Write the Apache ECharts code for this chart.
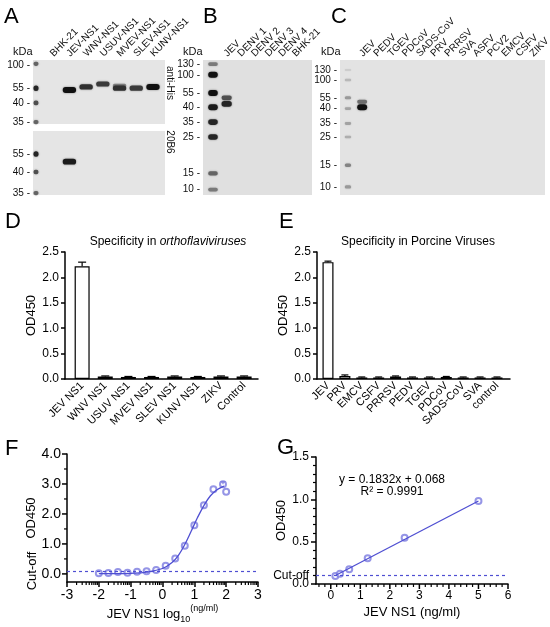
<!DOCTYPE html>
<html>
<head>
<meta charset="utf-8">
<script src="https://cdn.jsdelivr.net/npm/echarts@6/dist/echarts.min.js"></script>
<style>
html, body { margin: 0; padding: 0; background: #fff; }
#chart { width: 550px; height: 627px; }
</style>
</head>
<body>
<div id="chart"></div>
<script>
const FONT = '"Liberation Sans", Arial, Helvetica, sans-serif';

// ---- western blots: [lane, relative migration, intensity] ----
const lanesA = ['BHK-21', 'JEV-NS1', 'WNV-NS1', 'USUV-NS1', 'MVEV-NS1', 'SLEV-NS1', 'KUNV-NS1'];
const kdaA1 = [100, 55, 40, 35];
const posA1 = [0.08, 0.44, 0.67, 0.97];
const bandsA1 = [[0, 0.06, 0.6], [0, 0.44, 0.9], [0, 0.67, 0.7], [0, 0.97, 0.6],
  [2, 0.47, 1], [3, 0.42, 0.85], [4, 0.375, 0.8], [5, 0.40, 0.45], [5, 0.44, 0.85],
  [6, 0.44, 0.8], [7, 0.42, 1]];
const kdaA2 = [55, 40, 35];
const posA2 = [0.36, 0.64, 0.97];
const bandsA2 = [[0, 0.36, 0.9], [0, 0.64, 0.7], [0, 0.97, 0.6], [2, 0.48, 0.95]];

const lanesB = ['JEV', 'DENV 1', 'DENV 2', 'DENV 3', 'DENV 4', 'BHK-21'];
const kdaB = [130, 100, 55, 40, 35, 25, 15, 10];
const posB = [0.03, 0.11, 0.245, 0.35, 0.46, 0.57, 0.84, 0.96];
const bandsB = [[0, 0.03, 0.5], [0, 0.11, 1], [0, 0.245, 1], [0, 0.35, 0.95], [0, 0.46, 0.9],
  [0, 0.57, 0.9], [0, 0.84, 0.6], [0, 0.96, 0.5], [1, 0.28, 0.7], [1, 0.325, 0.9]];

const lanesC = ['JEV', 'PEDV', 'TGEV', 'PDCoV', 'SADS-CoV', 'PRV', 'PRRSV', 'SVA', 'ASFV', 'PCV2', 'EMCV', 'CSFV', 'ZIKV'];
const kdaC = [130, 100, 55, 40, 35, 25, 15, 10];
const posC = [0.074, 0.148, 0.28, 0.36, 0.47, 0.57, 0.78, 0.94];
const bandsC = [[0, 0.074, 0.1], [0, 0.148, 0.2], [0, 0.28, 0.35], [0, 0.36, 0.3], [0, 0.47, 0.3],
  [0, 0.57, 0.25], [0, 0.78, 0.45], [0, 0.94, 0.35], [1, 0.31, 0.55], [1, 0.35, 1]];

// ---- ELISA specificity ----
const dNames = ['JEV NS1', 'WNV NS1', 'USUV NS1', 'MVEV NS1', 'SLEV NS1', 'KUNV NS1', 'ZIKV', 'Control'];
const dValues = [2.22, 0.05, 0.04, 0.04, 0.05, 0.04, 0.05, 0.05];
const dSd = [0.08, 0.01, 0.01, 0.01, 0.01, 0.01, 0.01, 0.01];

const eNames = ['JEV', 'PRV', 'EMCV', 'CSFV', 'PRRSV', 'PEDV', 'TGEV', 'PDCoV', 'SADS-CoV', 'SVA', 'control'];
const eValues = [2.30, 0.06, 0.03, 0.03, 0.05, 0.03, 0.03, 0.04, 0.03, 0.03, 0.03];
const eSd = [0.02, 0.02, 0.01, 0.01, 0.01, 0.01, 0.01, 0.01, 0.01, 0.01, 0.01];

// ---- sensitivity (log10 ng/ml) ----
const fLogConc = [-2.0, -1.7, -1.4, -1.1, -0.8, -0.5, -0.2, 0.1, 0.4, 0.7, 1.0, 1.3, 1.6, 1.9, 2.0];
const fOd = [0.02, 0.03, 0.06, 0.04, 0.07, 0.09, 0.13, 0.27, 0.51, 0.94, 1.62, 2.29, 2.82, 2.99, 2.74];
const fSd = [0, 0, 0, 0, 0, 0, 0, 0, 0, 0, 0, 0, 0, 0.08, 0];
const fFitX = [-2.0, -1.5, -1.0, -0.5, 0.0, 0.3, 0.5, 0.7, 0.9, 1.1, 1.3, 1.5, 1.7, 1.93];
const fFitY = [0.01, 0.01, 0.02, 0.06, 0.18, 0.38, 0.62, 0.98, 1.42, 1.88, 2.28, 2.6, 2.8, 2.93];
const fYTicks = [0, 1, 2, 3, 4];

// ---- standard curve ----
const gConc = [0.156, 0.3125, 0.625, 1.25, 2.5, 5];
const gOd = [0.095, 0.12, 0.175, 0.305, 0.545, 0.98];
const gFitX = [0.156, 5];
const gFitY = [0.10, 0.98];
const gXTicks = [0, 1, 2, 3, 4, 5, 6];
const cutOff = 0.1;

const BLUE = '#4f4fd2';
const BLUE_PT = '#7a7ae0';

const F_YMIN = -0.27, G_XMIN = -0.5;

function bandItem(markerW, sampleW) {
  return function (params, api) {
    const lane = api.value(0);
    const k = api.value(2);
    const c = api.coord([lane, api.value(1)]);
    const w = api.size([1, 0])[0] * (lane === 0 ? markerW : sampleW);
    const h = 1.5 + 4.5 * k;
    const g = Math.round(226 - 210 * k);
    return {
      type: 'rect',
      shape: { x: c[0] - w / 2, y: c[1] - h / 2, width: w, height: h, r: h / 2 },
      style: { fill: 'rgb(' + g + ',' + g + ',' + g + ')', shadowBlur: 2, shadowColor: 'rgba(0,0,0,' + (0.5 * k) + ')' }
    };
  };
}

// rotated lane names above a blot
function laneLabel(names) {
  return function (params, api) {
    const p = api.coord([api.value(0), 0]);
    return {
      type: 'text', x: p[0] - 1, y: p[1] - 5, rotation: Math.PI / 4,
      style: { text: names[params.dataIndex], fontSize: 10, fontFamily: FONT, fill: '#111', align: 'left', verticalAlign: 'middle' }
    };
  };
}

function errItem(capW, color) {
  return function (params, api) {
    const x = api.value(0), v = api.value(1), sd = api.value(2);
    if (!sd) return null;
    const p0 = api.coord([x, v]);
    const p1 = api.coord([x, v + sd]);
    const st = { stroke: color, lineWidth: 1.2 };
    return {
      type: 'group',
      children: [
        { type: 'line', shape: { x1: p0[0], y1: p0[1], x2: p1[0], y2: p1[1] }, style: st },
        { type: 'line', shape: { x1: p1[0] - capW / 2, y1: p1[1], x2: p1[0] + capW / 2, y2: p1[1] }, style: st }
      ]
    };
  };
}

// outward ticks at given axis values: 'x' draws under the x axis, 'y' left of the y axis
function tickItem(dir, base, len, lw) {
  return function (params, api) {
    const v = api.value(0);
    const p = dir === 'x' ? api.coord([v, base]) : api.coord([base, v]);
    const shape = dir === 'x'
      ? { x1: p[0], y1: p[1], x2: p[0], y2: p[1] + len }
      : { x1: p[0], y1: p[1], x2: p[0] - len, y2: p[1] };
    return { type: 'line', shape: shape, style: { stroke: '#000', lineWidth: lw } };
  };
}

function blotX(grid, min, max) {
  return {
    gridIndex: grid, type: 'value', min: min, max: max,
    axisLine: { show: false }, axisTick: { show: false }, splitLine: { show: false }, axisLabel: { show: false }
  };
}

function blotY(grid, pos, kda) {
  return {
    gridIndex: grid, type: 'value', min: 0, max: 1, inverse: true,
    axisLine: { show: false }, axisTick: { show: false }, splitLine: { show: false },
    axisLabel: { customValues: pos, formatter: v => kda[pos.indexOf(v)] + ' -', fontSize: 10, margin: 3, color: '#111',
      hideOverlap: false, showMinLabel: true, showMaxLabel: true }
  };
}

const axisLine = { onZero: false, lineStyle: { color: '#000', width: 1.5 } };
const tick = (len) => ({ show: true, length: len, lineStyle: { color: '#000', width: 1.5 } });

function barX(grid, min, max, names) {
  return {
    gridIndex: grid, type: 'value', min: min, max: max,
    axisLine: axisLine, axisTick: { show: false }, splitLine: { show: false },
    axisLabel: { customValues: names.map((n, i) => i), formatter: v => names[v], rotate: 45, fontSize: 11, margin: 5, color: '#000',
      hideOverlap: false, showMinLabel: true, showMaxLabel: true }
  };
}

function barY(grid, gap) {
  return {
    gridIndex: grid, type: 'value', min: 0, max: 2.5, interval: 0.5,
    name: 'OD450', nameLocation: 'middle', nameGap: gap, nameTextStyle: { fontSize: 13, color: '#000' },
    axisLine: axisLine, axisTick: tick(4), splitLine: { show: false },
    axisLabel: { formatter: v => v.toFixed(1), fontSize: 12, margin: 6, color: '#000' }
  };
}

// log-style minor ticks for panel F, and 0.2 / 0.5 steps for the linear axes
const fMinorX = [];
for (let d = -3; d < 3; d++) {
  for (let k = 2; k <= 9; k++) fMinorX.push(d + Math.log10(k));
}
const fMinorY = [0.5, 1.5, 2.5, 3.5];
const gMinorX = [];
for (let i = -2; i <= 30; i++) { if (i % 5 !== 0) gMinorX.push(i / 5); }

const option = {
  animation: false,
  textStyle: { fontFamily: FONT },
  grid: [
    { left: 33, top: 60, width: 132, height: 64, show: true, backgroundColor: '#e5e5e5', borderWidth: 0 },
    { left: 33, top: 131, width: 132, height: 64, show: true, backgroundColor: '#e5e5e5', borderWidth: 0 },
    { left: 203, top: 60, width: 109, height: 135, show: true, backgroundColor: '#e0e0e0', borderWidth: 0 },
    { left: 340, top: 60, width: 205, height: 135, show: true, backgroundColor: '#e3e3e3', borderWidth: 0 },
    { left: 65, top: 252, width: 193, height: 127 },
    { left: 317, top: 252, width: 193, height: 127 },
    { left: 67, top: 454, width: 191, height: 128 },
    { left: 316, top: 457, width: 192, height: 127 }
  ],
  title: [
    { text: 'Specificity in {i|orthoflaviviruses}', left: 163, top: 231, textAlign: 'center',
      textStyle: { fontSize: 12, fontWeight: 'normal', color: '#000', rich: { i: { fontSize: 12, fontStyle: 'italic', color: '#000' } } } },
    { text: 'Specificity in Porcine Viruses', left: 413, top: 231, textAlign: 'center',
      textStyle: { fontSize: 12, fontWeight: 'normal', color: '#000' } }
  ],
  graphic: [
    { type: 'text', left: 4, top: 6, style: { text: 'A', fontSize: 22, fill: '#000', fontFamily: FONT } },
    { type: 'text', left: 203, top: 6, style: { text: 'B', fontSize: 22, fill: '#000', fontFamily: FONT } },
    { type: 'text', left: 331, top: 6, style: { text: 'C', fontSize: 22, fill: '#000', fontFamily: FONT } },
    { type: 'text', left: 5, top: 211, style: { text: 'D', fontSize: 22, fill: '#000', fontFamily: FONT } },
    { type: 'text', left: 279, top: 211, style: { text: 'E', fontSize: 22, fill: '#000', fontFamily: FONT } },
    { type: 'text', left: 5, top: 438, style: { text: 'F', fontSize: 22, fill: '#000', fontFamily: FONT } },
    { type: 'text', left: 277, top: 437, style: { text: 'G', fontSize: 22, fill: '#000', fontFamily: FONT } },
    { type: 'text', left: 13, top: 46, style: { text: 'kDa', fontSize: 11, fill: '#111', fontFamily: FONT } },
    { type: 'text', left: 183, top: 46, style: { text: 'kDa', fontSize: 11, fill: '#111', fontFamily: FONT } },
    { type: 'text', left: 321, top: 46, style: { text: 'kDa', fontSize: 11, fill: '#111', fontFamily: FONT } },
    { type: 'text', x: 170, y: 83, rotation: -Math.PI / 2,
      style: { text: 'anti-His', fontSize: 10, fill: '#111', fontFamily: FONT, align: 'center', verticalAlign: 'middle' } },
    { type: 'text', x: 170, y: 142, rotation: -Math.PI / 2,
      style: { text: '20B6', fontSize: 10, fill: '#111', fontFamily: FONT, align: 'center', verticalAlign: 'middle' } },
    { type: 'text', x: 392, y: 480,
      style: { text: 'y = 0.1832x + 0.068', fontSize: 12, fill: '#000', fontFamily: FONT, align: 'center', verticalAlign: 'middle' } },
    { type: 'text', x: 392, y: 492,
      style: { text: 'R² = 0.9991', fontSize: 12, fill: '#000', fontFamily: FONT, align: 'center', verticalAlign: 'middle' } }
  ],
  xAxis: [
    blotX(0, -0.18, 7.72),
    blotX(1, -0.18, 7.72),
    blotX(2, -0.73, 7.24),
    blotX(3, -0.56, 13.87),
    barX(4, -0.74, 7.6, dNames),
    barX(5, -0.65, 10.77, eNames),
    {
      gridIndex: 6, type: 'value', min: -3, max: 3, interval: 1, position: 'bottom',
      name: 'JEV NS1 log{sub|10}{sup|(ng/ml)}', nameLocation: 'middle', nameGap: 22,
      nameTextStyle: { fontSize: 13, color: '#000', rich: {
        sub: { fontSize: 9, color: '#000', verticalAlign: 'bottom', lineHeight: 20 },
        sup: { fontSize: 9, color: '#000', verticalAlign: 'top', lineHeight: 20 } } },
      axisLine: axisLine, axisTick: tick(5), splitLine: { show: false },
      axisLabel: { fontSize: 14, margin: 6, color: '#000' }
    },
    {
      gridIndex: 7, type: 'value', min: G_XMIN, max: 6, position: 'bottom',
      name: 'JEV NS1 (ng/ml)', nameLocation: 'middle', nameGap: 22, nameTextStyle: { fontSize: 13, color: '#000' },
      axisLine: axisLine, splitLine: { show: false }, axisTick: { show: false },
      axisLabel: { customValues: gXTicks, fontSize: 12, margin: 6, color: '#000', hideOverlap: false, showMinLabel: true, showMaxLabel: true }
    }
  ],
  yAxis: [
    blotY(0, posA1, kdaA1),
    blotY(1, posA2, kdaA2),
    blotY(2, posB, kdaB),
    blotY(3, posC, kdaC),
    barY(4, 20),
    barY(5, 22),
    {
      gridIndex: 6, type: 'value', min: F_YMIN, max: 4, position: 'left',
      name: 'OD450', nameLocation: 'middle', nameGap: 28, nameTextStyle: { fontSize: 13, color: '#000' },
      axisLine: axisLine, splitLine: { show: false }, axisTick: { show: false },
      axisLabel: { customValues: fYTicks, formatter: v => v.toFixed(1), fontSize: 14, margin: 6, color: '#000',
        hideOverlap: false, showMinLabel: true, showMaxLabel: true }
    },
    {
      gridIndex: 6, type: 'value', min: F_YMIN, max: 4, position: 'left',
      axisLine: { show: false, onZero: false }, splitLine: { show: false }, axisTick: { show: false },
      axisLabel: { customValues: [cutOff], formatter: () => 'Cut-off', rotate: 90, fontSize: 13, margin: 28, color: '#000', hideOverlap: false }
    },
    {
      gridIndex: 7, type: 'value', min: 0, max: 1.5, interval: 0.5, position: 'left',
      name: 'OD450', nameLocation: 'middle', nameGap: 26, nameTextStyle: { fontSize: 13, color: '#000' },
      axisLine: axisLine, splitLine: { show: false }, axisTick: tick(5),
      minorTick: { show: true, splitNumber: 5, length: 3, lineStyle: { color: '#000', width: 1.2 } },
      axisLabel: { formatter: v => v.toFixed(1), fontSize: 12, margin: 7, color: '#000', lineHeight: 10 }
    },
    {
      gridIndex: 7, type: 'value', min: 0, max: 1.5, position: 'left',
      axisLine: { show: false, onZero: false }, splitLine: { show: false }, axisTick: { show: false },
      axisLabel: { customValues: [cutOff], formatter: () => 'Cut-off', fontSize: 12, margin: 7, color: '#000', hideOverlap: false }
    }
  ],
  series: [
    { type: 'custom', xAxisIndex: 0, yAxisIndex: 0, renderItem: bandItem(0.3, 0.8), data: bandsA1 },
    { type: 'custom', xAxisIndex: 1, yAxisIndex: 1, renderItem: bandItem(0.3, 0.8), data: bandsA2 },
    { type: 'custom', xAxisIndex: 2, yAxisIndex: 2, renderItem: bandItem(0.7, 0.75), data: bandsB },
    { type: 'custom', xAxisIndex: 3, yAxisIndex: 3, renderItem: bandItem(0.45, 0.7), data: bandsC },
    { type: 'custom', xAxisIndex: 0, yAxisIndex: 0, clip: false, renderItem: laneLabel(lanesA), data: lanesA.map((n, i) => i + 1) },
    { type: 'custom', xAxisIndex: 2, yAxisIndex: 2, clip: false, renderItem: laneLabel(lanesB), data: lanesB.map((n, i) => i + 1) },
    { type: 'custom', xAxisIndex: 3, yAxisIndex: 3, clip: false, renderItem: laneLabel(lanesC), data: lanesC.map((n, i) => i + 1) },
    {
      type: 'bar', xAxisIndex: 4, yAxisIndex: 4, barWidth: 15,
      itemStyle: { color: '#fff', borderColor: '#000', borderWidth: 1.2 },
      data: dValues.map((v, i) => [i, v])
    },
    { type: 'custom', xAxisIndex: 4, yAxisIndex: 4, z: 3, renderItem: errItem(8, '#000'), data: dValues.map((v, i) => [i, v, dSd[i]]) },
    {
      type: 'bar', xAxisIndex: 5, yAxisIndex: 5, barWidth: 11,
      itemStyle: { color: '#fff', borderColor: '#000', borderWidth: 1.2 },
      data: eValues.map((v, i) => [i, v])
    },
    { type: 'custom', xAxisIndex: 5, yAxisIndex: 5, z: 3, renderItem: errItem(7, '#000'), data: eValues.map((v, i) => [i, v, eSd[i]]) },
    // panel F ticks
    { type: 'custom', xAxisIndex: 6, yAxisIndex: 6, clip: false, renderItem: tickItem('x', F_YMIN, 3, 1.2), data: fMinorX },
    { type: 'custom', xAxisIndex: 6, yAxisIndex: 6, clip: false, renderItem: tickItem('y', -3, 5, 1.5), data: fYTicks },
    { type: 'custom', xAxisIndex: 6, yAxisIndex: 6, clip: false, renderItem: tickItem('y', -3, 3, 1.2), data: fMinorY },
    {
      type: 'line', xAxisIndex: 6, yAxisIndex: 6, smooth: 0.4, showSymbol: false,
      lineStyle: { color: BLUE, width: 1.3 }, data: fFitX.map((x, i) => [x, fFitY[i]]),
      markLine: {
        silent: true, symbol: 'none', label: { show: false },
        lineStyle: { color: BLUE, type: [3, 3], width: 1.2 }, data: [{ yAxis: cutOff }]
      }
    },
    {
      type: 'scatter', xAxisIndex: 6, yAxisIndex: 6, symbol: 'emptyCircle', symbolSize: 6,
      itemStyle: { color: BLUE_PT, borderWidth: 1.1 }, data: fLogConc.map((x, i) => [x, fOd[i]])
    },
    { type: 'custom', xAxisIndex: 6, yAxisIndex: 6, z: 3, renderItem: errItem(5, BLUE_PT), data: fLogConc.map((x, i) => [x, fOd[i], fSd[i]]) },
    // panel G ticks
    { type: 'custom', xAxisIndex: 7, yAxisIndex: 8, clip: false, renderItem: tickItem('x', 0, 5, 1.5), data: gXTicks },
    { type: 'custom', xAxisIndex: 7, yAxisIndex: 8, clip: false, renderItem: tickItem('x', 0, 3, 1.2), data: gMinorX },
    {
      type: 'line', xAxisIndex: 7, yAxisIndex: 8, showSymbol: false,
      lineStyle: { color: BLUE, width: 1.3 }, data: gFitX.map((x, i) => [x, gFitY[i]]),
      markLine: {
        silent: true, symbol: 'none', label: { show: false },
        lineStyle: { color: BLUE, type: [3, 3], width: 1.2 }, data: [{ yAxis: cutOff }]
      }
    },
    {
      type: 'scatter', xAxisIndex: 7, yAxisIndex: 8, symbol: 'emptyCircle', symbolSize: 6,
      itemStyle: { color: BLUE_PT, borderWidth: 1.1 }, data: gConc.map((x, i) => [x, gOd[i]])
    }
  ]
};

const chart = echarts.init(document.getElementById('chart'), null, { renderer: 'canvas' });
chart.setOption(option);
</script>
</body>
</html>
